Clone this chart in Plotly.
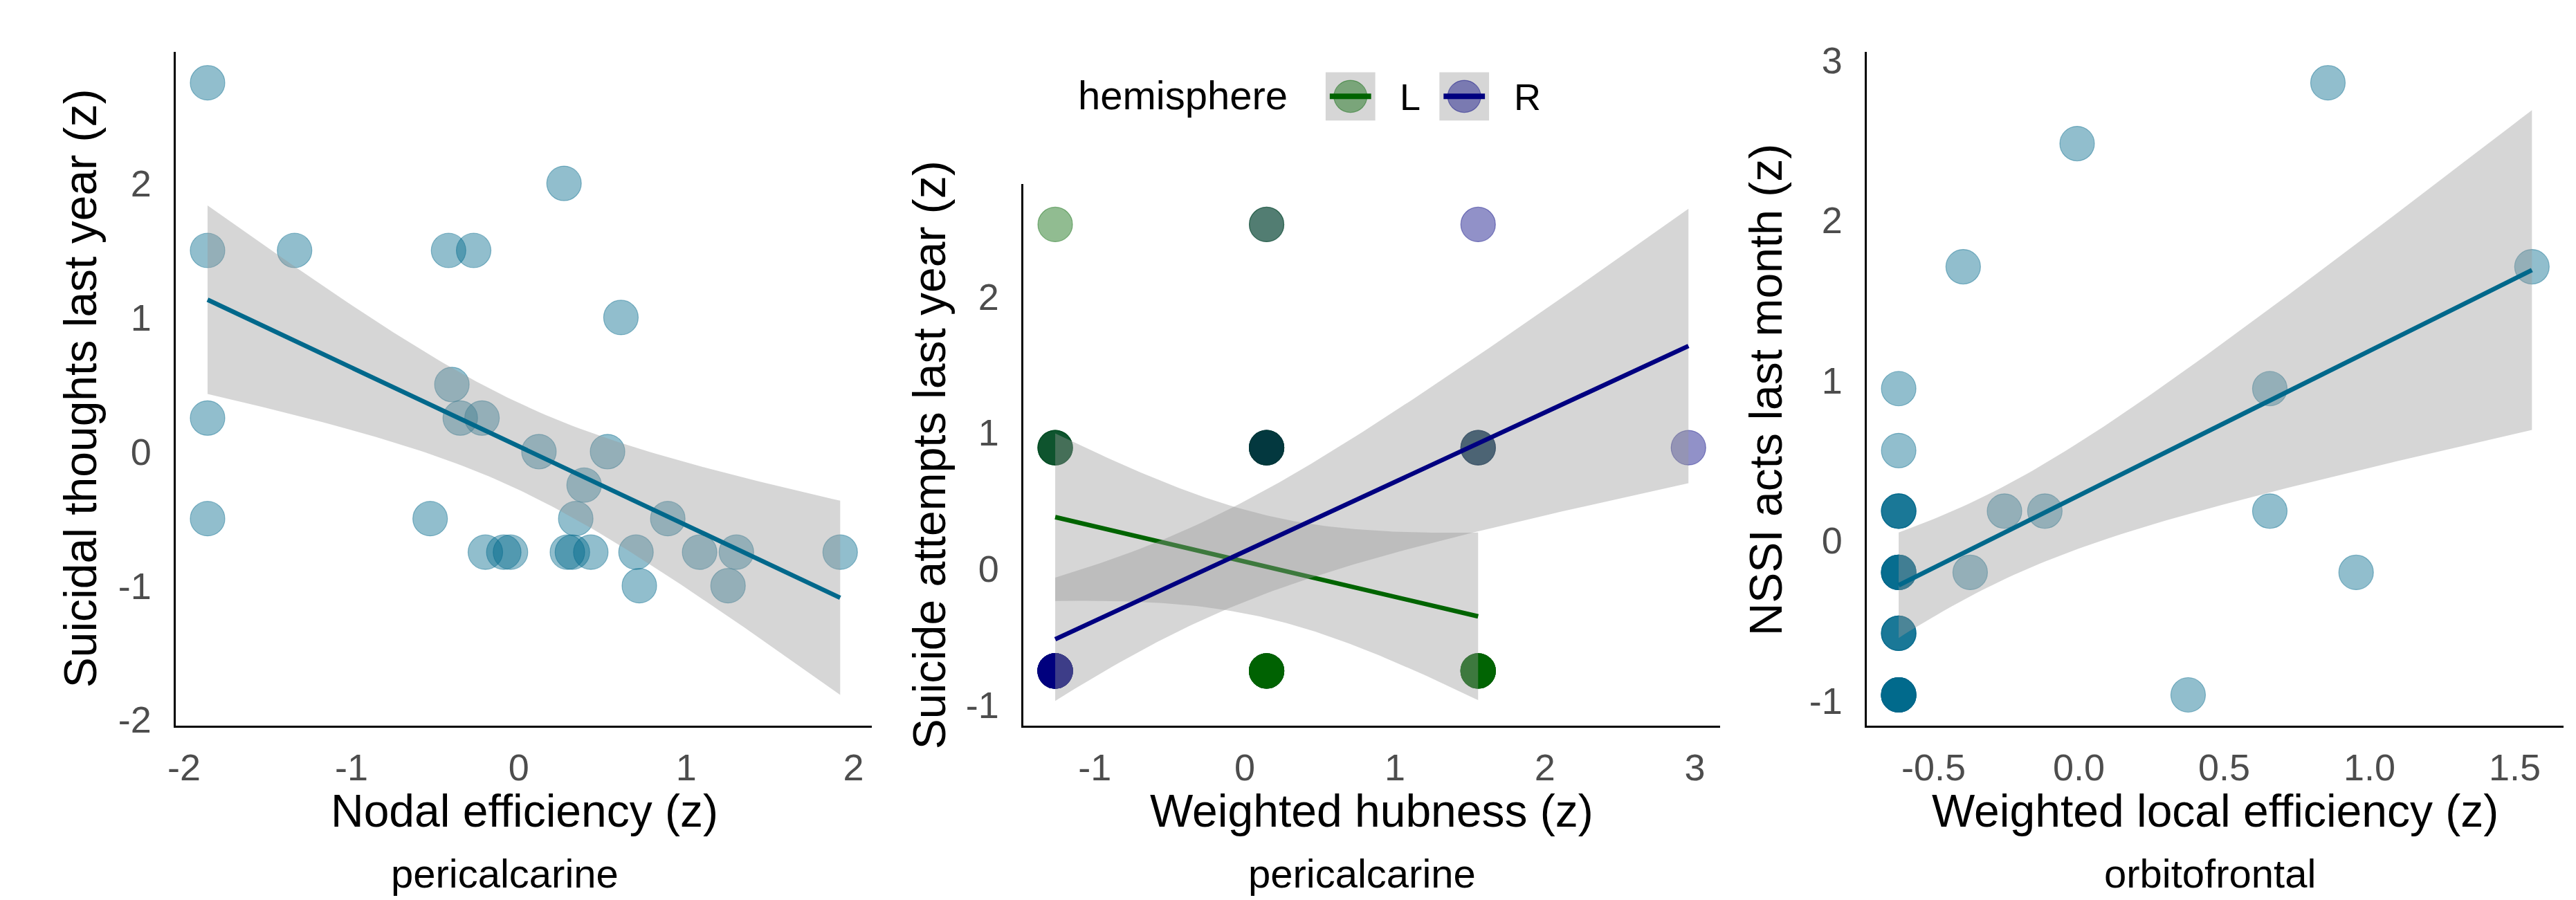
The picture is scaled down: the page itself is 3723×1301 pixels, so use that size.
import numpy as np
import plotly.graph_objects as go

W, H = 3723, 1301

# ---------------- data ----------------
# Panel 1: pericalcarine, nodal efficiency vs suicidal thoughts
p1_x = [-1.86, -1.86, -1.86, -1.86, -1.34, 0.27, -0.42, -0.27, 0.61, -0.40,
        -0.35, -0.22, 0.12, 0.53, 0.39, -0.53, 0.34, 0.89, -0.20, -0.09,
        -0.05, 0.29, 0.32, 0.43, 0.70, 1.08, 1.30, 1.92, 0.72, 1.25]
p1_y = [2.75, 1.50, 0.25, -0.50, 1.50, 2.00, 1.50, 1.50, 1.00, 0.50,
        0.25, 0.25, 0.00, 0.00, -0.25, -0.50, -0.50, -0.50, -0.75, -0.75,
        -0.75, -0.75, -0.75, -0.75, -0.75, -0.75, -0.75, -0.75, -1.00, -1.00]

# Panel 2: pericalcarine, weighted hubness vs suicide attempts, by hemisphere
# (listed in drawing order; p2_n = number of overlapping subjects)
p2_hemi = ["L", "R", "R", "L", "R", "L", "L", "R", "L", "L",
           "R", "L", "R", "L", "R", "R", "L", "R", "L", "R"]
p2_x = [-1.264, -1.264, 0.145, 0.145, 1.555, 1.555, -1.264, -1.264, -1.264, 0.145,
        0.145, 0.145, 1.555, 1.555, 1.555, 2.957, -1.264, 0.145, 0.145, 1.555]
p2_y = [-0.75, -0.75, -0.75, -0.75, -0.75, -0.75, 0.89, 0.89, 0.89, 0.89,
        0.89, 0.89, 0.89, 0.89, 0.89, 0.89, 2.53, 2.53, 2.53, 2.53]
p2_n = [4, 13, 2, 7, 1, 7, 3, 1, 1, 3,
        3, 1, 1, 2, 1, 1, 1, 1, 1, 1]

# Panel 3: orbitofrontal, weighted local efficiency vs NSSI acts
p3_x = [-0.620, -0.620, -0.620, -0.620, -0.620, -0.620, -0.256, -0.117, -0.374, 0.657,
        0.657, 0.954, 0.376, -0.398, 1.559, -0.006, 0.857]
p3_y = [-0.965, -0.580, -0.200, 0.183, 0.561, 0.948, 0.183, 0.183, -0.200, 0.948,
        0.183, -0.200, -0.965, 1.709, 1.709, 2.478, 2.858]
p3_n = [8, 4, 6, 4, 1, 1, 1, 1, 1, 1,
        1, 1, 1, 1, 1, 1, 1]

p1_xticks = [-2, -1, 0, 1, 2]
p1_yticks = [-2, -1, 0, 1, 2]
p2_xticks = [-1, 0, 1, 2, 3]
p2_yticks = [-1, 0, 1, 2]
p3_xticks = [-0.5, 0.0, 0.5, 1.0, 1.5]
p3_yticks = [-1, 0, 1, 2, 3]

x_titles = ["Nodal efficiency (z)", "Weighted hubness (z)", "Weighted local efficiency (z)"]
y_titles = ["Suicidal thoughts last year (z)", "Suicide attempts last year (z)", "NSSI acts last month (z)"]
regions = ["pericalcarine", "pericalcarine", "orbitofrontal"]
hemis = ["L", "R"]

# ---------------- styles ----------------
FONT = "Liberation Sans, Arial, sans-serif"
TEAL = (0, 104, 139)
HEMI_RGB = {"L": (0, 100, 0), "R": (0, 0, 128)}
ALPHA = 0.43
RIBBON = "rgba(153,153,153,0.4)"


def rgba(c, a):
    return f"rgba({c[0]},{c[1]},{c[2]},{a})"


def t_quant(df):
    z = 1.959963985
    return (z + (z**3 + z) / (4 * df) + (5 * z**5 + 16 * z**3 + 3 * z) / (96 * df**2)
            + (3 * z**7 + 19 * z**5 + 17 * z**3 - 15 * z) / (384 * df**3))


def lm_band(x, y, n_grid=100):
    x = np.asarray(x, float)
    y = np.asarray(y, float)
    n = len(x)
    mx = x.mean()
    sxx = ((x - mx) ** 2).sum()
    b = ((x - mx) * (y - y.mean())).sum() / sxx
    a = y.mean() - b * mx
    s = np.sqrt(((y - a - b * x) ** 2).sum() / (n - 2))
    g = np.linspace(x.min(), x.max(), n_grid)
    f = a + b * g
    se = s * np.sqrt(1.0 / n + (g - mx) ** 2 / sxx)
    t = t_quant(n - 2)
    return g, f, f - t * se, f + t * se


def expand(lo, hi, m=0.05):
    d = (hi - lo) * m
    return [lo - d, hi + d]


fig = go.Figure()

doms = [
    ([235 / W, 1244 / W], [1 - 1055 / H, 1 - 50 / H]),
    ([1464 / W, 2474 / W], [1 - 1055 / H, 1 - 247 / H]),
    ([2687 / W, 3697 / W], [1 - 1055 / H, 1 - 50 / H]),
]

MS = 50
LW = 6.5


def add_points(xs, ys, cols, k):
    fig.add_trace(go.Scatter(
        x=xs, y=ys, mode="markers", xaxis=f"x{k}", yaxis=f"y{k}",
        marker=dict(size=MS, color=cols, line=dict(width=1.2, color=cols)),
        showlegend=False, hoverinfo="skip"))


def add_smooth(g, f, lo, hi, color, k):
    fig.add_trace(go.Scatter(
        x=np.concatenate([g, g[::-1]]), y=np.concatenate([hi, lo[::-1]]),
        fill="toself", fillcolor=RIBBON, line=dict(width=0), mode="lines",
        xaxis=f"x{k}", yaxis=f"y{k}", showlegend=False, hoverinfo="skip"))
    fig.add_trace(go.Scatter(
        x=g, y=f, mode="lines", line=dict(color=color, width=LW),
        xaxis=f"x{k}", yaxis=f"y{k}", showlegend=False, hoverinfo="skip"))


ranges = []

# Panel 1
c1 = rgba(TEAL, ALPHA)
add_points(p1_x, p1_y, [c1] * len(p1_x), 1)
g, f, lo, hi = lm_band(p1_x, p1_y)
add_smooth(g, f, lo, hi, rgba(TEAL, 1), 1)
ranges.append((expand(min(p1_x), max(p1_x)),
               expand(min(min(p1_y), lo.min()), max(max(p1_y), hi.max()))))

# Panel 2
ex_x = np.repeat(p2_x, p2_n)
ex_y = np.repeat(p2_y, p2_n)
ex_h = np.repeat(p2_hemi, p2_n)
add_points(ex_x, ex_y, [rgba(HEMI_RGB[h], ALPHA) for h in ex_h], 2)
ylo, yhi = min(p2_y), max(p2_y)
for h in hemis:
    m = ex_h == h
    g, f, lo, hi = lm_band(ex_x[m], ex_y[m])
    add_smooth(g, f, lo, hi, rgba(HEMI_RGB[h], 1), 2)
    ylo, yhi = min(ylo, lo.min()), max(yhi, hi.max())
ranges.append((expand(min(p2_x), max(p2_x)), expand(ylo, yhi)))

# Panel 3
ex3_x = np.repeat(p3_x, p3_n)
ex3_y = np.repeat(p3_y, p3_n)
add_points(ex3_x, ex3_y, [c1] * len(ex3_x), 3)
g, f, lo, hi = lm_band(ex3_x, ex3_y)
add_smooth(g, f, lo, hi, rgba(TEAL, 1), 3)
ranges.append((expand(min(p3_x), max(p3_x)),
               expand(min(min(p3_y), lo.min()), max(max(p3_y), hi.max()))))

xt = [p1_xticks, p2_xticks, p3_xticks]
yt = [p1_yticks, p2_yticks, p3_yticks]
xt_txt = [[f"{v:g}" for v in p1_xticks], [f"{v:g}" for v in p2_xticks], [f"{v:.1f}" for v in p3_xticks]]
yt_txt = [[f"{v:g}" for v in p1_yticks], [f"{v:g}" for v in p2_yticks], [f"{v:g}" for v in p3_yticks]]

layout = dict(
    width=W, height=H, margin=dict(l=0, r=0, t=0, b=0),
    paper_bgcolor="white", plot_bgcolor="white", showlegend=False,
    font=dict(family=FONT, color="black"),
)
tickfont = dict(family=FONT, size=54, color="#4D4D4D")
for i in range(3):
    k = i + 1
    sx = "" if k == 1 else str(k)
    layout[f"xaxis{sx}"] = dict(
        domain=doms[i][0], anchor=f"y{k}", range=ranges[i][0],
        showline=True, linecolor="black", linewidth=2.5, showgrid=False, zeroline=False,
        ticks="", tickvals=xt[i], ticktext=xt_txt[i], tickfont=tickfont,
        ticklabelstandoff=12)
    layout[f"yaxis{sx}"] = dict(
        domain=doms[i][1], anchor=f"x{k}", range=ranges[i][1],
        showline=True, linecolor="black", linewidth=2.5, showgrid=False, zeroline=False,
        ticks="", tickvals=yt[i], ticktext=yt_txt[i], tickfont=tickfont,
        ticklabelstandoff=22)
fig.update_layout(**layout)


def px(xp):
    return xp / W


def py(yp):
    return 1 - yp / H


ann = []
xt_pos = [740, 1969, 3192]
yt_pos = [(96, 552), (1328, 651), (2540, 554)]
rg_pos = [712, 1955, 3184]
for i in range(3):
    ann.append(dict(x=px(xt_pos[i]), y=py(1182), xref="paper", yref="paper", text=x_titles[i],
                    showarrow=False, xanchor="center", yanchor="middle",
                    font=dict(family=FONT, size=66, color="black")))
    ann.append(dict(x=px(yt_pos[i][0]), y=py(yt_pos[i][1]), xref="paper", yref="paper",
                    text=y_titles[i], textangle=-90, showarrow=False,
                    xanchor="center", yanchor="middle",
                    font=dict(family=FONT, size=66, color="black")))
    ann.append(dict(x=px(rg_pos[i]), y=py(1276), xref="paper", yref="paper", text=regions[i],
                    showarrow=False, xanchor="center", yanchor="middle",
                    font=dict(family=FONT, size=58, color="black")))

# legend (hemisphere)
ann.append(dict(x=px(1541), y=py(114), xref="paper", yref="paper", text="hemisphere",
                showarrow=False, xanchor="left", yanchor="middle",
                font=dict(family=FONT, size=58, color="black")))
shapes = []
key_left = [1902, 2067]
lab_left = [2007, 2173]
for h, kl, ll in zip(hemis, key_left, lab_left):
    shapes.append(dict(type="rect", xref="paper", yref="paper", x0=px(kl), x1=px(kl + 72),
                       y0=py(152), y1=py(80), fillcolor="#D6D6D6", line=dict(width=0)))
    cx, cy, r = kl + 36, 116, 24
    shapes.append(dict(type="circle", xref="paper", yref="paper", x0=px(cx - r), x1=px(cx + r),
                       y0=py(cy + r), y1=py(cy - r), fillcolor=rgba(HEMI_RGB[h], ALPHA),
                       line=dict(width=1.2, color=rgba(HEMI_RGB[h], ALPHA))))
    shapes.append(dict(type="line", xref="paper", yref="paper", x0=px(kl + 6), x1=px(kl + 66),
                       y0=py(cy), y1=py(cy), line=dict(color=rgba(HEMI_RGB[h], 1), width=8)))
    ann.append(dict(x=px(ll), y=py(117), xref="paper", yref="paper", text=h,
                    showarrow=False, xanchor="left", yanchor="middle",
                    font=dict(family=FONT, size=54, color="black")))

fig.update_layout(annotations=ann, shapes=shapes)
fig.write_html("out.html")
